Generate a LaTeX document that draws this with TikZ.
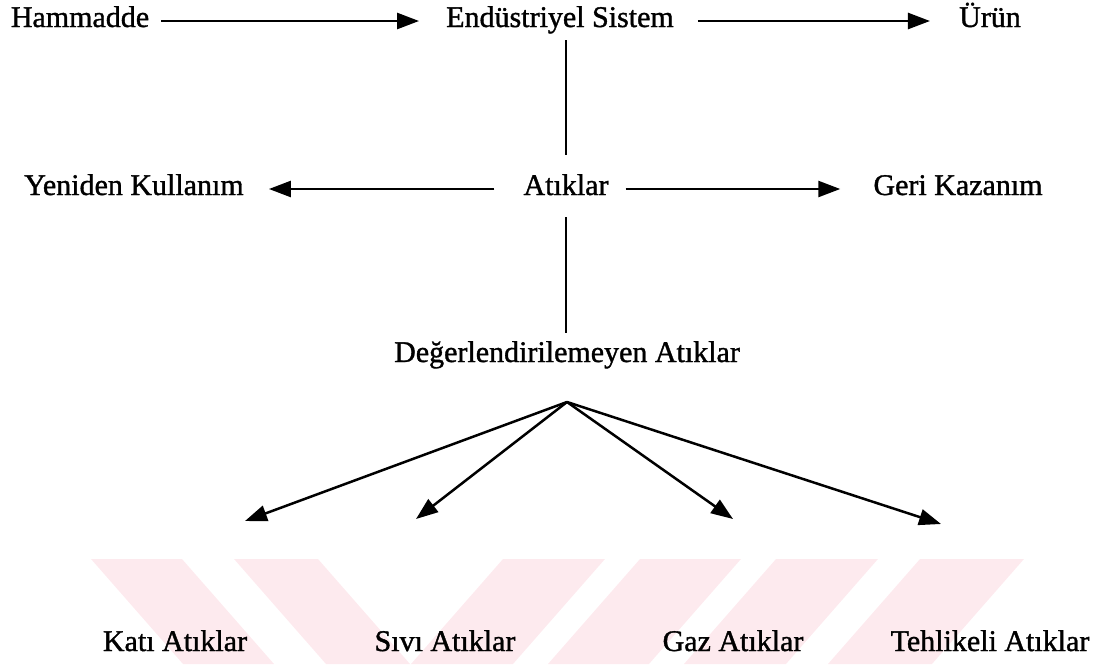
\documentclass[tikz,border=0pt]{standalone}
\usepackage{fontspec}
\setmainfont{Liberation Serif}
\newfontfamily\heavy{Liberation Serif}[FakeBold=1.2]
\usetikzlibrary{arrows.meta}
\definecolor{wm}{RGB}{253,234,238}
\tikzset{
  lbl/.style={inner sep=0pt, anchor=base, text height=17pt, text depth=5pt, font=\heavy\fontsize{30}{36}\selectfont},
  arr/.style={line width=2.5pt, -{Triangle[length=22pt,width=16pt]}},
  ln/.style={line width=2.5pt},
  stripe/.style={fill=wm, draw=none}
}
\begin{document}
\begin{tikzpicture}[x=1pt,y=-1pt]
\useasboundingbox (0,0) rectangle (1095,664);
% watermark
\fill[stripe] (91,559) -- (182,559) -- (274,664) -- (183,664) -- cycle;
\fill[stripe] (234,559) -- (318,559) -- (410,664) -- (326,664) -- cycle;
\fill[stripe] (503,559) -- (605,559) -- (513,664) -- (411,664) -- cycle;
\fill[stripe] (640,559) -- (741,559) -- (649,664) -- (548,664) -- cycle;
\fill[stripe] (776,559) -- (878,559) -- (786,664) -- (684,664) -- cycle;
\fill[stripe] (920,559) -- (1024,559) -- (932,664) -- (828,664) -- cycle;
% nodes
\node[lbl] (ham) at (80,27) {Hammadde};
\node[lbl] (es) at (560,27) {Endüstriyel Sistem};
\node[lbl] (urun) at (990,27) {Ürün};
\node[lbl] (yk) at (134,195) {Yeniden Kullanım};
\node[lbl] (at) at (566,195) {Atıklar};
\node[lbl] (gk) at (958,195) {Geri Kazanım};
\node[lbl] (deg) at (567,362) {Değerlendirilemeyen Atıklar};
\node[lbl] (kati) at (175,651) {Katı Atıklar};
\node[lbl] (sivi) at (445,651) {Sıvı Atıklar};
\node[lbl] (gaz) at (733,651) {Gaz Atıklar};
\node[lbl] (teh) at (990,651) {Tehlikeli Atıklar};
\coordinate (apex) at (567,402);
\coordinate (t1) at (245,521);
\coordinate (t2) at (416,519);
\coordinate (t3) at (733,519);
\coordinate (t4) at (941,524);
% connectors
\draw[arr, shorten <=12pt, shorten >=27pt] (ham.east) -- (es.west);
\draw[arr, shorten <=24pt, shorten >=29pt] (es.east) -- (urun.west);
\draw[ln, shorten <=8pt, shorten >=23pt] (at.north |- es.south) -- (at.north);
\draw[arr, shorten <=29pt, shorten >=25pt] (at.west) -- (yk.east);
\draw[arr, shorten <=17pt, shorten >=33pt] (at.east) -- (gk.west);
\draw[ln, shorten <=17pt, shorten >=12pt] (at.south) -- (deg.north -| at.south);
\draw[arr] (apex) -- (t1);
\draw[arr] (apex) -- (t2);
\draw[arr] (apex) -- (t3);
\draw[arr] (apex) -- (t4);
\end{tikzpicture}
\end{document}
